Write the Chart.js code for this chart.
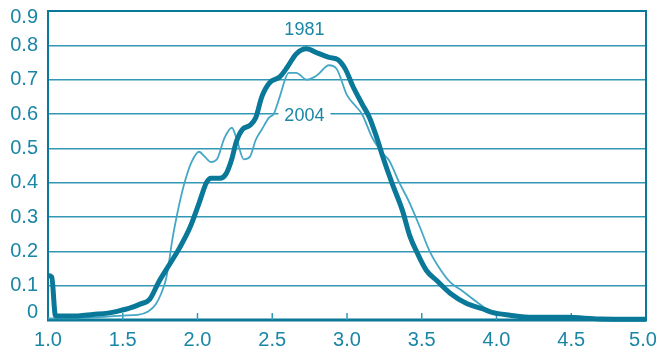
<!DOCTYPE html>
<html><head><meta charset="utf-8">
<script src="https://cdn.jsdelivr.net/npm/chart.js@4"></script>
<style>html,body{margin:0;padding:0;background:#fff}#wrap{width:657px;height:351px}</style>
</head><body><div id="wrap"><canvas id="c" width="657" height="351"></canvas></div>
<script>
// ---- data ----
const x1981 = [1.00,1.025,1.05,1.10,1.20,1.30,1.40,1.47,1.55,1.62,1.68,1.74,1.81,1.88,1.95,2.01,2.06,2.09,2.15,2.19,2.23,2.26,2.30,2.35,2.39,2.43,2.48,2.55,2.60,2.66,2.73,2.80,2.88,2.94,2.99,3.04,3.10,3.15,3.20,3.24,3.30,3.37,3.42,3.47,3.53,3.60,3.69,3.80,3.91,3.97,4.09,4.24,4.47,4.69,5.00];
const y1981 = [0.13,0.125,0.012,0.012,0.012,0.016,0.02,0.026,0.035,0.047,0.06,0.11,0.16,0.21,0.27,0.34,0.40,0.413,0.413,0.425,0.47,0.52,0.555,0.567,0.59,0.65,0.69,0.708,0.736,0.775,0.79,0.778,0.765,0.758,0.73,0.68,0.63,0.59,0.53,0.475,0.40,0.32,0.245,0.195,0.145,0.115,0.078,0.048,0.032,0.022,0.014,0.008,0.008,0.003,0.002];
const x2004 = [1.00,1.20,1.40,1.50,1.60,1.67,1.72,1.76,1.79,1.81,1.83,1.86,1.89,1.92,1.96,2.01,2.05,2.09,2.13,2.18,2.23,2.26,2.31,2.35,2.39,2.43,2.48,2.51,2.55,2.61,2.66,2.73,2.80,2.88,2.93,3.00,3.06,3.10,3.17,3.24,3.28,3.35,3.42,3.49,3.55,3.62,3.69,3.77,3.87,3.95,4.05,4.20,4.50,4.80,5.00];
const y2004 = [0.005,0.005,0.01,0.013,0.015,0.025,0.045,0.08,0.12,0.17,0.23,0.30,0.36,0.41,0.46,0.49,0.475,0.46,0.468,0.53,0.56,0.53,0.468,0.475,0.525,0.555,0.59,0.60,0.65,0.72,0.72,0.70,0.713,0.742,0.732,0.655,0.622,0.60,0.53,0.485,0.466,0.40,0.34,0.268,0.203,0.15,0.11,0.085,0.052,0.028,0.015,0.008,0.006,0.003,0.002];
const xTicks = [1.0,1.5,2.0,2.5,3.0,3.5,4.0,4.5,5.0];
const yTicks = [0,0.1,0.2,0.3,0.4,0.5,0.6,0.7,0.8,0.9];
const seriesNames = ['1981','2004'];
// annotation anchors in data units
const label1981At = {x:2.715, y:0.846};
const label2004At = {x:2.715, y:0.594};

// ---- styles ----
const DARK = '#0a7898';
const LIGHT = '#45a7c5';
const GRID = '#3398b6';
const TEXT = '#1a86a6';
const FONT = '"Liberation Sans", Arial, Helvetica, sans-serif';

const toPts = (xs, ys) => xs.map((x, i) => ({x, y: ys[i]}));

const decor = {
  id: 'decor',
  beforeDatasetsDraw(chart) {
    const {ctx, chartArea: a, scales} = chart;
    ctx.save();
    const bx = scales.x.getPixelForValue(label2004At.x);
    const by = scales.y.getPixelForValue(label2004At.y);
    ctx.fillStyle = '#fff';
    ctx.fillRect(bx - 26, by - 9, 52, 18);
    ctx.strokeStyle = DARK;
    ctx.lineWidth = 2;
    ctx.beginPath();
    ctx.moveTo(a.left, a.bottom); ctx.lineTo(a.left, a.top);
    ctx.lineTo(a.right, a.top); ctx.lineTo(a.right, a.bottom);
    ctx.stroke();
    ctx.lineWidth = 3;
    ctx.beginPath();
    ctx.moveTo(a.left - 1, a.bottom); ctx.lineTo(a.right + 1, a.bottom);
    ctx.stroke();
    ctx.strokeStyle = GRID;
    ctx.lineWidth = 1.5;
    xTicks.forEach(v => {
      if (v === xTicks[0] || v === xTicks[xTicks.length - 1]) return;
      const px = scales.x.getPixelForValue(v);
      ctx.beginPath(); ctx.moveTo(px, a.bottom); ctx.lineTo(px, a.bottom - 7); ctx.stroke();
    });
    ctx.restore();
  },
  afterDraw(chart) {
    const {ctx, chartArea: a, scales} = chart;
    ctx.save();
    ctx.fillStyle = TEXT;
    ctx.font = '20px ' + FONT;
    ctx.textAlign = 'right';
    ctx.textBaseline = 'middle';
    yTicks.forEach(v => {
      let py = scales.y.getPixelForValue(v);
      py = Math.max(a.top + 6.5, Math.min(a.bottom - 7.5, py));
      ctx.fillText(v === 0 ? '0' : v.toFixed(1), 38, py);
    });
    ctx.textAlign = 'center';
    xTicks.forEach(v => {
      let px = scales.x.getPixelForValue(v);
      px = Math.min(chart.width - 14, px);
      ctx.fillText(v.toFixed(1), px, a.bottom + 20);
    });
    ctx.font = '18px ' + FONT;
    ctx.fillText(seriesNames[0], scales.x.getPixelForValue(label1981At.x), scales.y.getPixelForValue(label1981At.y));
    ctx.fillText(seriesNames[1], scales.x.getPixelForValue(label2004At.x), scales.y.getPixelForValue(label2004At.y));
    ctx.restore();
  }
};

new Chart(document.getElementById('c'), {
  type: 'line',
  data: {
    datasets: [
      {label: seriesNames[0], data: toPts(x1981, y1981), borderColor: DARK, borderWidth: 5,
       pointRadius: 0, cubicInterpolationMode: 'monotone', fill: false, clip: false, borderCapStyle: 'butt', borderJoinStyle: 'round'},
      {label: seriesNames[1], data: toPts(x2004, y2004), borderColor: LIGHT, borderWidth: 1.8,
       pointRadius: 0, cubicInterpolationMode: 'monotone', fill: false, clip: false}
    ]
  },
  options: {
    responsive: false,
    devicePixelRatio: 1,
    animation: false,
    events: [],
    layout: {padding: {left: 0, right: 11, top: 11, bottom: 0}},
    plugins: {legend: {display: false}, tooltip: {enabled: false}},
    scales: {
      x: {
        type: 'linear', min: 1, max: 5,
        afterBuildTicks: s => { s.ticks = xTicks.map(v => ({value: v})); },
        ticks: {display: false},
        grid: {display: false},
        border: {display: false},
        afterFit: s => { s.height = 31; s.paddingLeft = 0; s.paddingRight = 0; }
      },
      y: {
        type: 'linear', min: 0, max: 0.9,
        afterBuildTicks: s => { s.ticks = yTicks.map(v => ({value: v})); },
        ticks: {display: false},
        grid: {drawTicks: false, lineWidth: 1.5,
               color: c => (c.tick && (c.tick.value === 0 || c.tick.value === 0.9)) ? 'rgba(0,0,0,0)' : GRID},
        border: {display: false},
        afterFit: s => { s.width = 48; s.paddingTop = 0; s.paddingBottom = 0; }
      }
    }
  },
  plugins: [decor]
});
</script>
</body></html>
